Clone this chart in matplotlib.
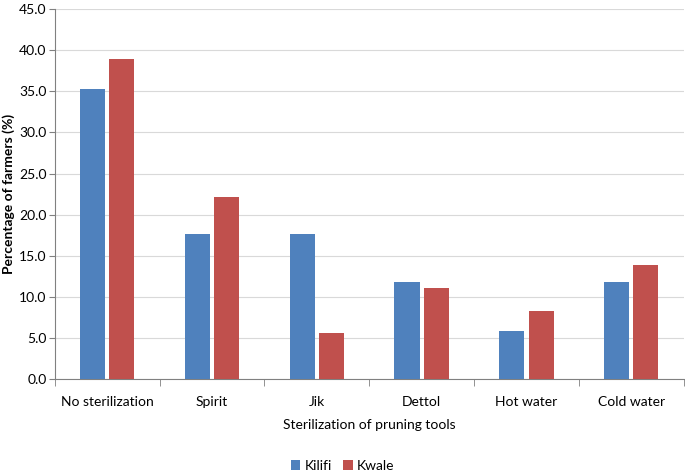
import numpy as np
import matplotlib
matplotlib.use("Agg")
import matplotlib.pyplot as plt

categories = ["No sterilization", "Spirit", "Jik", "Dettol", "Hot water", "Cold water"]
kilifi = [35.3, 17.6, 17.6, 11.8, 5.9, 11.8]
kwale = [38.9, 22.2, 5.6, 11.1, 8.3, 13.9]

plt.rcParams["font.family"] = ["Lato", "DejaVu Sans"]

fig = plt.figure(figsize=(6.85, 4.74), dpi=100)
ax = fig.add_axes([0.08, 0.2, 0.918, 0.781])

x = np.arange(len(categories))
w = 0.24
ax.bar(x - w / 2 - 0.02, kilifi, w, color="#4F81BD", label="Kilifi", zorder=3)
ax.bar(x + w / 2 + 0.02, kwale, w, color="#C0504D", label="Kwale", zorder=3)

ax.set_xlim(-0.5, len(categories) - 0.5)
ax.set_ylim(0, 45)
ax.set_yticks(np.arange(0, 46, 5))
ax.set_yticklabels([f"{v:.1f}" for v in np.arange(0, 46, 5)], fontsize=10)
ax.yaxis.grid(True, color="#D9D9D9", linewidth=0.8, zorder=0)

ax.set_xticks(x)
ax.set_xticklabels(categories, fontsize=10)
ax.tick_params(axis="x", length=0, pad=12)
ax.set_xticks(np.arange(-0.5, len(categories), 1), minor=True)
ax.tick_params(axis="x", which="minor", length=5, color="#808080")
ax.tick_params(axis="y", length=4, pad=2, color="#808080")

for s in ["top", "right"]:
    ax.spines[s].set_visible(False)
for s in ["left", "bottom"]:
    ax.spines[s].set_color("#808080")

ax.set_ylabel("Percentage of farmers (%)", fontsize=10, fontweight="bold", labelpad=3)
ax.set_xlabel("Sterilization of pruning tools", fontsize=10, labelpad=8)

fig.legend(loc="lower center", bbox_to_anchor=(0.5, -0.022), ncol=2, frameon=False,
           fontsize=10, handlelength=0.7, handleheight=0.7, handletextpad=0.3,
           columnspacing=0.8)

fig.savefig("out.png", dpi=100)
